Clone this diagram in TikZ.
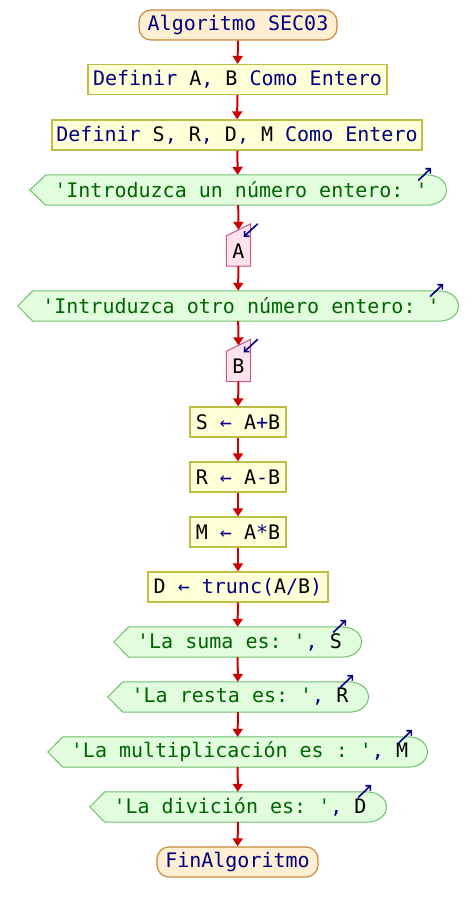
\documentclass[tikz,border=0pt]{standalone}
\usepackage{fontspec}
\setmonofont{DejaVu Sans Mono}
\usetikzlibrary{arrows.meta,backgrounds,calc}

\definecolor{kwblue}{HTML}{000080}
\definecolor{strgreen}{HTML}{006400}
\definecolor{flowred}{HTML}{CC0000}
\definecolor{termfill}{HTML}{FFEFD2}
\definecolor{termline}{HTML}{C8893C}
\definecolor{procfill}{HTML}{FFFFD8}
\definecolor{procline}{HTML}{BEBE46}
\definecolor{outfill}{HTML}{E2FCDE}
\definecolor{outline}{HTML}{6CC06C}
\definecolor{infill}{HTML}{FFE2EE}
\definecolor{inline}{HTML}{C05888}

\newcommand{\ckw}[1]{\textcolor{kwblue}{#1}}
\newcommand{\cstr}[1]{\textcolor{strgreen}{#1}}
\newcommand{\cvar}[1]{\textcolor{black}{#1}}

\tikzset{
  base/.style={font=\ttfamily\fontsize{20}{24}\selectfont, minimum height=30pt,
    inner sep=0pt, anchor=center},
  term/.style={base, draw=termline, fill=termfill, rounded corners=12pt, line width=1.2pt},
  proc/.style={base, draw=procline, fill=procfill, line width=1.2pt},
  outbox/.style={base},
  outshape/.style={draw=outline, fill=outfill, line width=1pt},
  inbox/.style={base, minimum width=24pt},
  inshape/.style={draw=inline, fill=infill, line width=1pt},
  flow/.style={draw=flowred, line width=2pt, -{Triangle[width=10pt,length=8pt]}},
  tag/.style={draw=kwblue, line width=1.6pt, -{Straight Barb[length=3.5pt,width=7pt]}},
}

\begin{document}
\begin{tikzpicture}[x=1pt,y=-1pt]
\useasboundingbox (0,0) rectangle (476,912);

% flowchart steps
\node[term, minimum width=198pt] (start) at (238,25) {\ckw{Algoritmo SEC03}};
\node[proc, minimum width=299pt] (def1) at (237.5,79.5) {\ckw{Definir} \cvar{A}\ckw{,} \cvar{B} \ckw{Como Entero}};
\node[proc, minimum width=370pt] (def2) at (237,135) {\ckw{Definir} \cvar{S}\ckw{,} \cvar{R}\ckw{,} \cvar{D}\ckw{,} \cvar{M} \ckw{Como Entero}};
\node[outbox, minimum width=416pt] (out1) at (238,190) {\hspace*{6pt}\cstr{'Introduzca un número entero: '}};
\node[inbox] (inA) at (238.5,251) {\cvar{A}};
\node[outbox, minimum width=440pt] (out2) at (238,306) {\hspace*{6pt}\cstr{'Intruduzca otro número entero: '}};
\node[inbox] (inB) at (238.5,366.5) {\cvar{B}};
\node[proc, minimum width=96pt] (asS) at (238,422) {\cvar{S} \ckw{←} \cvar{A}\ckw{+}\cvar{B}};
\node[proc, minimum width=96pt] (asR) at (238,477) {\cvar{R} \ckw{←} \cvar{A}\ckw{-}\cvar{B}};
\node[proc, minimum width=96pt] (asM) at (238,532) {\cvar{M} \ckw{←} \cvar{A}\ckw{*}\cvar{B}};
\node[proc, minimum width=180pt] (asD) at (238,587) {\cvar{D} \ckw{←} \ckw{trunc(}\cvar{A}\ckw{/}\cvar{B}\ckw{)}};
\node[outbox, minimum width=247pt] (outS) at (237.5,642) {\hspace*{4pt}\cstr{'La suma es: '}\ckw{,} \cvar{S}};
\node[outbox, minimum width=260pt] (outR) at (238,697) {\hspace*{4pt}\cstr{'La resta es: '}\ckw{,} \cvar{R}};
\node[outbox, minimum width=379pt] (outM) at (237.5,752) {\hspace*{4pt}\cstr{'La multiplicación es : '}\ckw{,} \cvar{M}};
\node[outbox, minimum width=296pt] (outD) at (238,807) {\hspace*{4pt}\cstr{'La divición es: '}\ckw{,} \cvar{D}};
\node[term, minimum width=161pt] (stop) at (237.5,862) {\ckw{FinAlgoritmo}};

% shapes of the output and input steps
\begin{scope}[on background layer]
  \foreach \o/\d in {out1/16,out2/15,outS/15,outR/15,outM/15,outD/15} {
    \draw[outshape] (\o.west) -- ([shift={(\d,0)}]\o.north west)
      -- ([shift={(-20,0)}]\o.north east)
      .. controls ([shift={(7,0)}]\o.north east) and ([shift={(7,0)}]\o.south east)
      .. ([shift={(-20,0)}]\o.south east)
      -- ([shift={(\d,0)}]\o.south west) -- cycle;
  }
  \foreach \i in {inA,inB} {
    \draw[inshape] (\i.south west) -- (\i.north west)
      -- ([shift={(0,-12)}]\i.north east) -- (\i.south east) -- cycle;
  }
\end{scope}

% output / input markers
\foreach \o in {out1,out2,outS,outR,outM,outD}
  \draw[tag] ([shift={(-28,-9.5)}]\o.east) -- ([shift={(-15,-22)}]\o.east);
\foreach \i in {inA,inB}
  \draw[tag] ([shift={(7,-12)}]\i.north east) -- ([shift={(-7,1)}]\i.north east);

% connectors
\draw[flow] (start) -- (def1);
\draw[flow] (def1) -- (def2);
\draw[flow] (def2) -- (out1);
\draw[flow] (out1) -- ([shift={(0,-6)}]inA.north);
\draw[flow] (inA) -- (out2);
\draw[flow] (out2) -- ([shift={(0,-6)}]inB.north);
\draw[flow] (inB) -- (asS);
\draw[flow] (asS) -- (asR);
\draw[flow] (asR) -- (asM);
\draw[flow] (asM) -- (asD);
\draw[flow] (asD) -- (outS);
\draw[flow] (outS) -- (outR);
\draw[flow] (outR) -- (outM);
\draw[flow] (outM) -- (outD);
\draw[flow] (outD) -- (stop);
\end{tikzpicture}
\end{document}
